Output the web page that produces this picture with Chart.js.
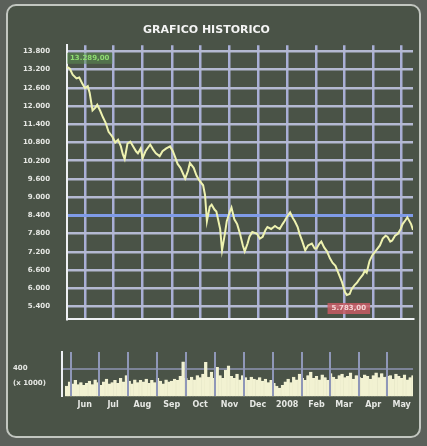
<!DOCTYPE html>
<html>
<head>
<meta charset="utf-8">
<script src="https://cdn.jsdelivr.net/npm/chart.js@4.4.0/dist/chart.umd.min.js"></script>
<style>
  body { margin: 0; width: 427px; height: 446px; background: #5b605a; position: relative; overflow: hidden; }
  #frame { position: absolute; left: 6px; top: 4px; width: 411px; height: 430px; border: 2px solid #c2c6c0; border-radius: 10px; background: #4a5347; }
  #priceWrap { position: absolute; left: 0; top: 0; width: 427px; height: 340px; }
  #volWrap { position: absolute; left: 0; top: 340px; width: 427px; height: 78px; }
</style>
</head>
<body>
<div id="frame"></div>
<div id="priceWrap"><canvas id="priceChart"></canvas></div>
<div id="volWrap"><canvas id="volChart"></canvas></div>
<script>
// days counted from 13 May 2007
const monthLabels = ['Jun', 'Jul', 'Aug', 'Sep', 'Oct', 'Nov', 'Dec', '2008', 'Feb', 'Mar', 'Apr', 'May'];
const monthDays = [19, 49, 80, 111, 141, 172, 202, 233, 264, 293, 324, 354];

const priceTicks = [5400, 6000, 6600, 7200, 7800, 8400, 9000, 9600, 10200, 10800, 11400, 12000, 12600, 13200, 13800];

const priceDays = [0, 3, 6, 10, 13, 16, 19, 22, 24, 27, 30, 32, 35, 38, 41, 44, 48, 51, 54, 57,
    59, 61, 64, 67, 70, 73, 75, 78, 80, 83, 88, 91, 94, 98, 101, 105, 109, 112, 114, 117,
    120, 125, 128, 130, 134, 137, 140, 144, 146, 148, 151, 153, 156, 158, 162, 164, 167, 169, 172, 174,
    177, 180, 183, 186, 188, 191, 193, 196, 201, 204, 207, 210, 212, 216, 220, 223, 225, 228, 230, 233,
    236, 239, 241, 244, 246, 249, 252, 255, 259, 262, 264, 267, 269, 272, 275, 278, 281, 284, 286, 289,
    291, 294, 296, 299, 301, 304, 307, 309, 313, 315, 317, 320, 323, 327, 331, 334, 337, 339, 342, 344,
    347, 350, 353, 355, 358, 360, 364, 366];
const priceValues = [13289, 13225, 13033, 12906, 12938, 12746, 12586, 12650, 12427, 11852,
    11948, 12043, 11852, 11628, 11436, 11149, 10989, 10798, 10893, 10670,
    10414, 10255, 10766, 10830, 10670, 10510, 10446, 10606, 10287, 10510,
    10734, 10574, 10446, 10350, 10510, 10606, 10670, 10510, 10350, 10095,
    9967, 9616, 9871, 10127, 9967, 9712, 9552, 9392, 9073, 8210,
    8690, 8753, 8594, 8530, 7955, 7252, 7795, 8210, 8498, 8658,
    8274, 8115, 7795, 7412, 7220, 7476, 7700, 7859, 7795, 7636,
    7700, 7923, 8019, 7955, 8051, 7987, 7955, 8115, 8210, 8370,
    8498, 8306, 8210, 8019, 7795, 7540, 7252, 7412, 7476, 7316,
    7316, 7476, 7540, 7348, 7220, 6997, 6837, 6741, 6582, 6358,
    6198, 5879, 5783, 5815, 5975, 6102, 6198, 6294, 6454, 6582,
    6518, 6901, 7093, 7252, 7412, 7636, 7732, 7700, 7540, 7572,
    7732, 7795, 7955, 8115, 8242, 8338, 8115, 7923];

// volume (x 1000), one bar every 3 days
const VOL_STEP = 3;
const volValues = [150, 210, 180, 230, 170, 200, 160,
    190, 220, 170, 240, 200, 160, 210, 250, 180, 200,
    230, 190, 260, 210, 300, 220, 180, 240, 200, 230,
    210, 250, 190, 230, 200, 260, 220, 180, 240, 210,
    220, 250, 230, 290, 500, 260, 230, 280, 240, 300,
    270, 320, 490, 280, 350, 260, 420, 300, 260, 380,
    440, 290, 260, 320, 240, 300, 270, 230, 280, 250,
    240, 270, 220, 250, 200, 230, 190, 150, 120, 160,
    210, 250, 200, 280, 240, 320, 260, 230, 300, 350,
    260, 290, 240, 310, 270, 230, 330, 280, 250, 300,
    320, 270, 290, 340, 250, 300, 280, 260, 310, 290,
    250, 300, 340, 270, 330, 280, 290, 300, 250, 320,
    290, 260, 310, 240, 270, 300];
const volTicks = [185, 400];
const volTickLabels = ['(x 1000)', '400'];

function thousands(v) {
    return String(v).replace(/\B(?=(\d{3})+(?!\d))/g, '.');
}

const tickFont = { family: 'DejaVu Sans', size: 7, weight: 'bold' };

// max / min boxes on the price line
const extremesPlugin = {
    id: 'extremes',
    afterDatasetsDraw(chart) {
        const pts = chart.getDatasetMeta(0).data;
        const vals = chart.data.datasets[0].data.map(p => p.y);
        const iMax = vals.indexOf(Math.max(...vals));
        const iMin = vals.indexOf(Math.min(...vals));
        const ctx = chart.ctx;
        ctx.save();
        ctx.font = 'bold 7px "DejaVu Sans"';
        ctx.textBaseline = 'middle';

        let txt = thousands(vals[iMax]) + ',00';
        let w = ctx.measureText(txt).width + 6;
        let x = pts[iMax].x, y = pts[iMax].y - 14;
        ctx.fillStyle = 'rgba(90, 140, 80, 0.55)';
        ctx.fillRect(x, y, w, 11);
        ctx.fillStyle = '#8edc72';
        ctx.textAlign = 'left';
        ctx.fillText(txt, x + 3, y + 5.5);

        txt = thousands(vals[iMin]) + ',00';
        w = ctx.measureText(txt).width + 8;
        x = pts[iMin].x + 2; y = pts[iMin].y + 8;
        ctx.fillStyle = 'rgba(200, 90, 100, 0.85)';
        ctx.fillRect(x - w / 2, y, w, 11);
        ctx.fillStyle = '#f6d6d6';
        ctx.textAlign = 'center';
        ctx.fillText(txt, x, y + 5.5);
        ctx.restore();
    }
};

new Chart(document.getElementById('priceChart').getContext('2d'), {
    type: 'line',
    data: {
        datasets: [{
            data: priceDays.map((d, i) => ({ x: d, y: priceValues[i] })),
            borderColor: '#eef2b0',
            borderWidth: 2,
            pointRadius: 0,
            tension: 0,
            fill: false
        }]
    },
    options: {
        responsive: true,
        maintainAspectRatio: false,
        animation: false,
        layout: { padding: { left: 0, right: 14, top: 24, bottom: 12 } },
        plugins: {
            legend: { display: false },
            tooltip: { enabled: false },
            title: {
                display: true,
                text: 'GRAFICO HISTORICO',
                color: '#f4f4f4',
                font: { family: 'DejaVu Sans', size: 11, weight: 'bold' },
                padding: { top: 0, bottom: 8 }
            }
        },
        scales: {
            x: {
                type: 'linear',
                min: 0,
                max: 366,
                afterBuildTicks: function(scale) {
                    scale.ticks = monthDays.map(v => ({ value: v }));
                },
                ticks: { display: false },
                grid: { color: '#a9afd6', lineWidth: 2.5, drawTicks: false },
                border: { color: '#eef0f4', width: 2 }
            },
            y: {
                min: 5000,
                max: 14000,
                afterBuildTicks: function(scale) {
                    scale.ticks = priceTicks.map(v => ({ value: v }));
                },
                afterFit: function(scale) { scale.width = 67; },
                ticks: {
                    color: '#e6e8e4',
                    font: tickFont,
                    padding: 17,
                    callback: function(value) { return thousands(value); }
                },
                grid: {
                    drawTicks: false,
                    color: priceTicks.map(v => v === 8400 ? '#7f9be8' : '#b4b9d2'),
                    lineWidth: priceTicks.map(v => v === 8400 ? 3 : 2.5)
                },
                border: { color: '#eef0f4', width: 2 }
            }
        }
    },
    plugins: [extremesPlugin]
});

new Chart(document.getElementById('volChart').getContext('2d'), {
    type: 'bar',
    data: {
        datasets: [{
            data: volValues.map((v, i) => ({ x: i * VOL_STEP, y: v })),
            backgroundColor: '#f2f2d2',
            borderColor: '#f2f2d2',
            borderWidth: 0.5,
            barPercentage: 1,
            categoryPercentage: 1
        }]
    },
    options: {
        responsive: true,
        maintainAspectRatio: false,
        animation: false,
        layout: { padding: { left: 13, right: 14, top: 12, bottom: 4 } },
        plugins: {
            legend: { display: false },
            tooltip: { enabled: false }
        },
        scales: {
            x: {
                type: 'linear',
                min: -5,
                max: 366,
                offset: false,
                afterBuildTicks: function(scale) {
                    scale.ticks = monthDays.map(v => ({ value: v }));
                },
                ticks: {
                    color: '#e6e8e4',
                    font: { family: 'DejaVu Sans', size: 8, weight: 'bold' },
                    padding: 4,
                    maxRotation: 0,
                    callback: function(value, index) { return monthLabels[index]; }
                },
                grid: { color: '#8f97b8', lineWidth: 2, drawTicks: false, z: 1 },
                border: { display: false }
            },
            y: {
                min: 0,
                max: 640,
                afterBuildTicks: function(scale) {
                    scale.ticks = volTicks.map(v => ({ value: v }));
                },
                afterFit: function(scale) { scale.width = 49; },
                ticks: {
                    color: '#e6e8e4',
                    font: tickFont,
                    crossAlign: 'far',
                    callback: function(value, index) { return volTickLabels[index]; }
                },
                grid: {
                    drawTicks: false,
                    lineWidth: 2,
                    color: volTicks.map(v => v === 400 ? '#7d8498' : 'rgba(0, 0, 0, 0)')
                },
                border: { color: '#eef0f4', width: 2 }
            }
        }
    }
});
</script>
</body>
</html>
